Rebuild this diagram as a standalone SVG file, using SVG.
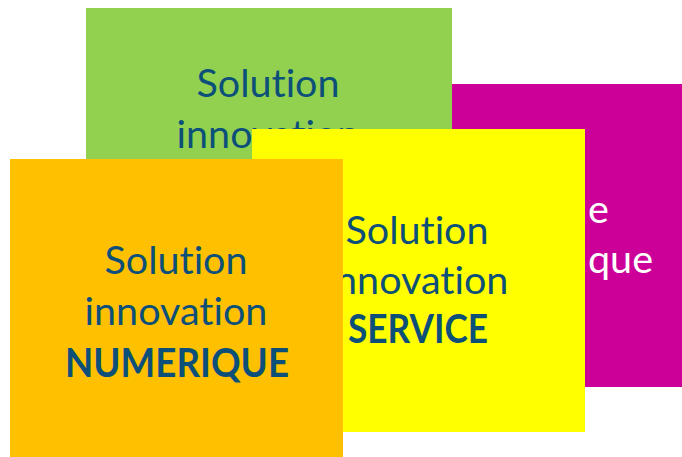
<svg xmlns="http://www.w3.org/2000/svg" width="682" height="457" viewBox="0 0 682 457">
<style>
.t{font-family:Lato,"Open Sans","Liberation Sans",sans-serif;font-size:39.5px;fill:#0C5079;text-anchor:middle;font-variant-ligatures:none}
.b{font-weight:bold}
.w{font-family:Lato,"Open Sans","Liberation Sans",sans-serif;font-size:39.5px;fill:#FFFFFF;font-variant-ligatures:none}
</style>
<rect width="682" height="457" fill="#FFFFFF"/>
<g id="magenta">
<rect x="452" y="84" width="240" height="303" fill="#CC0099"/>
<text class="w" x="588" y="223">e</text>
<text class="w" x="588" y="273">que</text>
</g>
<g id="green">
<rect x="86" y="8" width="366" height="300" fill="#92D050"/>
<text class="t" x="268" y="97">Solution</text>
<text class="t" x="268" y="148">innovation</text>
</g>
<g id="yellow">
<rect x="252" y="129" width="333" height="303" fill="#FFFF00"/>
<text class="t" x="417" y="244">Solution</text>
<text class="t" x="417" y="294">innovation</text>
<text class="t b" x="418" y="343" textLength="140" lengthAdjust="spacingAndGlyphs">SERVICE</text>
</g>
<g id="orange">
<rect x="10" y="159" width="333" height="310" fill="#FFC000"/>
<text class="t" x="176" y="274">Solution</text>
<text class="t" x="176" y="325">innovation</text>
<text class="t b" x="177" y="377" textLength="224" lengthAdjust="spacingAndGlyphs">NUMERIQUE</text>
</g>
<g id="connectors"/>
</svg>
